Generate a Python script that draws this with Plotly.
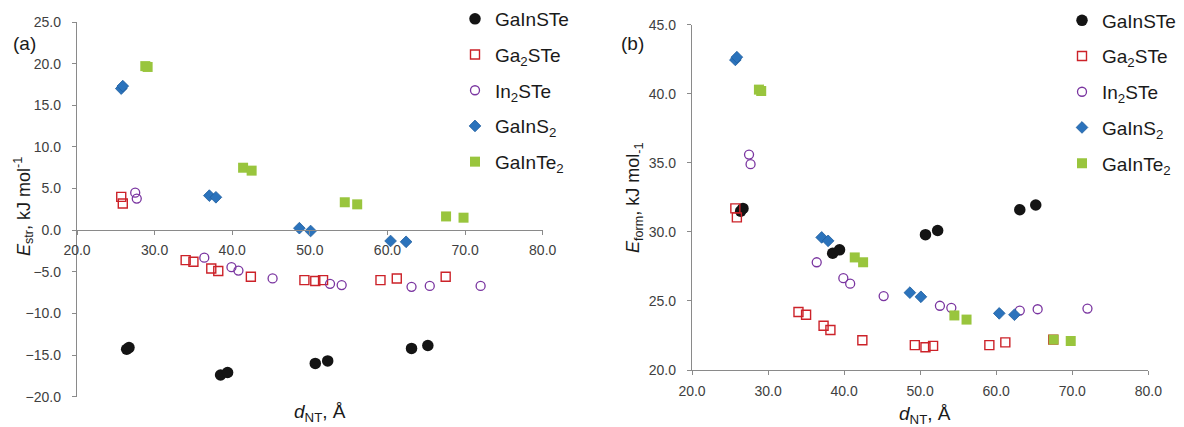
import plotly.graph_objects as go

# Nanotube diameter (Å) and energies (kJ/mol) for each composition
series_names = ["GaInSTe", "Ga<sub>2</sub>STe", "In<sub>2</sub>STe", "GaInS<sub>2</sub>", "GaInTe<sub>2</sub>"]

d_GaInSTe = [26.4, 26.7, 38.5, 39.4, 50.7, 52.3, 63.1, 65.2]
estr_GaInSTe = [-14.3, -14.1, -17.4, -17.1, -16.0, -15.7, -14.2, -13.85]
eform_GaInSTe = [31.5, 31.7, 28.45, 28.7, 29.8, 30.1, 31.6, 31.95]

d_Ga2STe = [25.7, 25.9, 34.0, 35.0, 37.3, 38.2, 42.4, 49.3, 50.7, 51.7, 59.1, 61.2, 67.5]
estr_Ga2STe = [4.0, 3.2, -3.6, -3.8, -4.6, -4.9, -5.6, -6.0, -6.1, -6.0, -6.0, -5.8, -5.6]
eform_Ga2STe = [31.7, 31.05, 24.2, 24.0, 23.2, 22.9, 22.15, 21.8, 21.65, 21.75, 21.8, 22.0, 22.2]

d_In2STe = [27.5, 27.7, 36.4, 39.9, 40.8, 45.2, 52.6, 54.1, 63.1, 65.45, 72.0]
estr_In2STe = [4.5, 3.8, -3.3, -4.45, -4.85, -5.8, -6.45, -6.6, -6.8, -6.7, -6.7]
eform_In2STe = [35.6, 34.9, 27.8, 26.65, 26.25, 25.35, 24.65, 24.5, 24.3, 24.4, 24.45]

d_GaInS2 = [25.7, 25.9, 37.05, 37.9, 48.65, 50.1, 60.4, 62.4]
estr_GaInS2 = [17.0, 17.3, 4.15, 3.95, 0.24, -0.1, -1.3, -1.4]
eform_GaInS2 = [42.45, 42.65, 29.6, 29.35, 25.6, 25.3, 24.1, 24.0]

d_GaInTe2 = [28.8, 29.1, 41.4, 42.5, 54.5, 56.1, 67.55, 69.8]
estr_GaInTe2 = [19.7, 19.6, 7.5, 7.15, 3.35, 3.1, 1.65, 1.5]
eform_GaInTe2 = [40.3, 40.2, 28.15, 27.8, 23.95, 23.65, 22.2, 22.1]

x_ticks = [20, 30, 40, 50, 60, 70, 80]
estr_ticks = [-20, -15, -10, -5, 0, 5, 10, 15, 20, 25]
eform_ticks = [20, 25, 30, 35, 40, 45]

W, H = 1184, 427
FONT = "Liberation Sans, Arial, sans-serif"
AXIS_COLOR = "#8a8a8a"
TICK_COLOR = "#404040"

styles = [
    dict(symbol="circle", size=11.5, color="#141414", line=dict(width=0)),
    dict(symbol="square-open", size=9, color="#CC2229", line=dict(width=1.4)),
    dict(symbol="circle-open", size=9, color="#7A35A0", line=dict(width=1.3)),
    dict(symbol="diamond", size=9, color="#2B73BC", line=dict(width=0.8, color="#1F5E9E")),
    dict(symbol="square", size=10, color="#99C53D", line=dict(width=0)),
]

left_data = [
    (d_GaInSTe, estr_GaInSTe), (d_Ga2STe, estr_Ga2STe), (d_In2STe, estr_In2STe),
    (d_GaInS2, estr_GaInS2), (d_GaInTe2, estr_GaInTe2),
]
right_data = [
    (d_GaInSTe, eform_GaInSTe), (d_Ga2STe, eform_Ga2STe), (d_In2STe, eform_In2STe),
    (d_GaInS2, eform_GaInS2), (d_GaInTe2, eform_GaInTe2),
]

fig = go.Figure()
for i, (name, st, (x, y)) in enumerate(zip(series_names, styles, left_data)):
    fig.add_trace(go.Scatter(
        x=x, y=y, mode="markers", name=name, marker=st,
        xaxis="x", yaxis="y", legend="legend", legendgroup=f"a{i}", cliponaxis=False,
    ))
for i, (name, st, (x, y)) in enumerate(zip(series_names, styles, right_data)):
    fig.add_trace(go.Scatter(
        x=x, y=y, mode="markers", name=name, marker=st,
        xaxis="x2", yaxis="y2", legend="legend2", legendgroup=f"b{i}", cliponaxis=False,
    ))

# Plot-area placement in pixels
L_x0, L_x1, L_y0, L_y1 = 77, 542.7, 22, 396.7
R_x0, R_x1, R_y0, R_y1 = 692, 1148.3, 24.7, 370

def px_x(p):
    return p / W

def px_y(p):
    return 1 - p / H

left_ydom = [px_y(L_y1), px_y(L_y0)]
# x-axis of panel (a) crosses at E_str = 0
zero_pos = left_ydom[0] + (0 - estr_ticks[0]) / (estr_ticks[-1] - estr_ticks[0]) * (left_ydom[1] - left_ydom[0])

axis_common = dict(
    showgrid=False, zeroline=False, showline=True, linecolor=AXIS_COLOR, linewidth=1.3,
    ticks="outside", ticklen=4, tickwidth=1.3, tickcolor=AXIS_COLOR,
    tickfont=dict(family=FONT, size=14, color=TICK_COLOR), tickformat=".1f",
    automargin=False,
)

legend_common = dict(
    xanchor="left", yanchor="top",
    font=dict(family=FONT, size=19, color="#1a1a1a"),
    tracegroupgap=8, bgcolor="rgba(0,0,0,0)", itemsizing="trace",
)

fig.update_layout(
    width=W, height=H, margin=dict(l=0, r=0, t=0, b=0, autoexpand=False),
    paper_bgcolor="white", plot_bgcolor="white",
    font=dict(family=FONT, color="#1a1a1a"),
    xaxis=dict(axis_common, domain=[px_x(L_x0), px_x(L_x1)], range=[20, 80],
               tickvals=x_ticks, anchor="free", position=zero_pos, ticklabelstandoff=3),
    yaxis=dict(axis_common, domain=left_ydom, range=[-20, 25], tickvals=estr_ticks,
               anchor="x", ticklabelstandoff=8),
    xaxis2=dict(axis_common, domain=[px_x(R_x0), px_x(R_x1)], range=[20, 80],
                tickvals=x_ticks, anchor="y2", ticklabelstandoff=4),
    yaxis2=dict(axis_common, domain=[px_y(R_y1), px_y(R_y0)], range=[20, 45],
                tickvals=eform_ticks, anchor="x2", ticklabelstandoff=8),
    legend=dict(legend_common, x=px_x(455), y=px_y(0)),
    legend2=dict(legend_common, x=px_x(1062), y=px_y(1.5)),
    showlegend=True,
)

ann_font = dict(family=FONT, size=19, color="#1a1a1a")
annotations = [
    dict(text="(a)", x=px_x(24), y=px_y(43)),
    dict(text="(b)", x=px_x(632), y=px_y(43)),
    dict(text="<i>d</i><sub>NT</sub>, Å", x=px_x(320), y=px_y(413)),
    dict(text="<i>d</i><sub>NT</sub>, Å", x=px_x(925), y=px_y(415)),
    dict(text="<i>E</i><sub>str</sub>, kJ mol<sup>-1</sup>", x=px_x(23), y=px_y(207), textangle=-90,
         font=dict(family=FONT, size=18, color="#1a1a1a")),
    dict(text="<i>E</i><sub>form</sub>, kJ mol<sub>-1</sub>", x=px_x(634), y=px_y(198), textangle=-90,
         font=dict(family=FONT, size=18, color="#1a1a1a")),
]
for a in annotations:
    a.setdefault("font", ann_font)
    fig.add_annotation(xref="paper", yref="paper", showarrow=False,
                       xanchor="center", yanchor="middle", **a)

fig.write_html("out.html")
